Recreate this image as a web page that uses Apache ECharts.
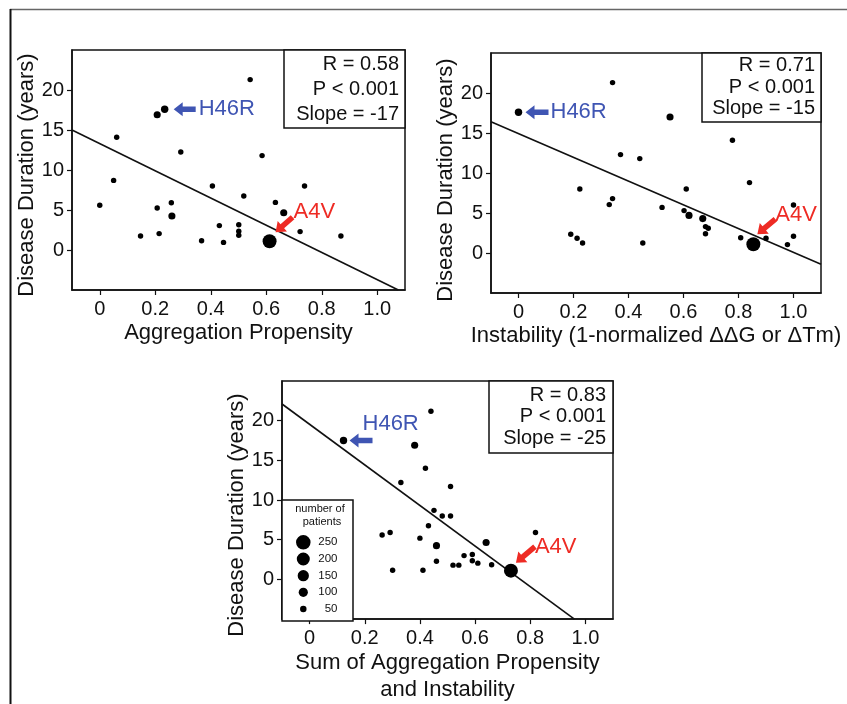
<!DOCTYPE html>
<html>
<head>
<meta charset="utf-8">
<script src="https://cdn.jsdelivr.net/npm/echarts@6/dist/echarts.min.js"></script>
<style>
  html, body { margin: 0; padding: 0; background: #fff; }
  #chart { width: 847px; height: 704px; }
</style>
</head>
<body>
<div id="chart"></div>
<script>
// ---------------- DATA ----------------
// Panel 1: Aggregation Propensity vs Disease Duration
const aggX = [0, 0.05, 0.061, 0.147, 0.207, 0.234, 0.207, 0.214, 0.258, 0.26, 0.292, 0.367, 0.406, 0.431, 0.446, 0.501, 0.501, 0.501, 0.519, 0.542, 0.585, 0.612, 0.633, 0.663, 0.722, 0.738, 0.869];
const aggY = [5.6, 8.7, 14.1, 1.75, 16.9, 17.6, 5.25, 2.05, 5.9, 4.25, 12.25, 1.15, 8.0, 3.05, 0.95, 3.15, 2.35, 1.85, 6.75, 21.3, 11.8, 1.1, 5.95, 4.65, 2.3, 8.0, 1.75];
const aggN = [35, 35, 35, 35, 60, 65, 35, 35, 35, 60, 35, 35, 35, 35, 35, 35, 35, 35, 35, 35, 35, 230, 35, 60, 35, 35, 35];
const aggFit = [[-0.1, 15.0], [1.076, -5]];
const aggStats = ['R = 0.58', 'P < 0.001', 'Slope = -17'];

// Panel 2: Instability vs Disease Duration
const insX = [0, 0.19, 0.213, 0.223, 0.233, 0.33, 0.342, 0.342, 0.371, 0.441, 0.452, 0.522, 0.551, 0.602, 0.61, 0.62, 0.67, 0.68, 0.69, 0.68, 0.778, 0.808, 0.84, 0.854, 0.9, 0.978, 1.0, 1.0];
const insY = [17.6, 2.35, 1.85, 8.0, 1.25, 6.05, 6.8, 21.3, 12.3, 11.8, 1.25, 5.7, 17.0, 5.3, 8.0, 4.7, 4.3, 3.3, 3.1, 2.4, 14.1, 1.9, 8.8, 1.1, 1.85, 1.05, 6.0, 2.1];
const insN = [65, 35, 35, 35, 35, 35, 35, 35, 35, 35, 35, 35, 60, 35, 35, 60, 60, 35, 35, 35, 35, 35, 35, 230, 35, 35, 35, 35];
const insFit = [[-0.1, 16.4], [1.1, -1.4]];
const insStats = ['R = 0.71', 'P < 0.001', 'Slope = -15'];

// Panel 3: Sum of Aggregation Propensity and Instability vs Disease Duration
const sumX = [0.123, 0.263, 0.292, 0.301, 0.331, 0.381, 0.4, 0.411, 0.42, 0.431, 0.44, 0.451, 0.46, 0.46, 0.481, 0.511, 0.511, 0.52, 0.541, 0.56, 0.59, 0.59, 0.61, 0.64, 0.66, 0.73, 0.819];
const sumY = [17.5, 5.6, 5.9, 1.15, 12.2, 16.9, 5.2, 1.15, 14.0, 6.75, 21.2, 8.7, 4.25, 2.3, 8.0, 8.0, 11.7, 1.8, 1.8, 3.0, 3.15, 2.35, 2.05, 4.65, 1.85, 1.1, 5.9];
const sumN = [65, 35, 35, 35, 35, 60, 35, 35, 35, 35, 35, 35, 60, 35, 35, 35, 35, 35, 35, 35, 35, 35, 35, 60, 35, 230, 35];
const sumFit = [[-0.1, 22.1], [0.96, -5]];
const sumStats = ['R = 0.83', 'P < 0.001', 'Slope = -25'];

// Axis ticks / labels
const xTicks = [0, 0.2, 0.4, 0.6, 0.8, 1.0];
const yTicks = [0, 5, 10, 15, 20];
const xRange = [-0.1, 1.1];
const yRange = [-5, 25];
const yName = 'Disease Duration (years)';
const xNames = ['Aggregation Propensity', 'Instability (1-normalized \u0394\u0394G or \u0394Tm)', 'Sum of Aggregation Propensity\nand Instability'];

// Size legend
const legendTitle = ['number of', 'patients'];
const legendCounts = [250, 200, 150, 100, 50];

// Labelled mutations (index into each panel's arrays)
const h46rIdx = [5, 0, 0];
const a4vIdx = [21, 23, 25];

// ---------------- STYLE / LAYOUT ----------------
const FONT = '"Liberation Sans", Arial, Helvetica, sans-serif';
const INK = '#111';
const BLUE = '#3f55b3';
const RED = '#ee2b24';
const sizeOf = n => 0.92 * Math.sqrt(n);

const grids = [
  { left: 72, top: 50, width: 333, height: 240 },
  { left: 491, top: 53, width: 330, height: 240 },
  { left: 282, top: 381, width: 331, height: 240 }
];
const xNameGap = [29, 28, 28];
const yNameGap = [31, 30, 31];
const yNamePad = [[0, 10, 0, 0], [0, 14, 0, 0], [0, 30, 0, 0]];

const statsBoxes = [
  { x: 284, y: 50, w: 121, h: 78, right: 399, rows: [64, 89, 114] },
  { x: 702, y: 53, w: 119, h: 69, right: 815, rows: [65, 87, 108.5] },
  { x: 489, y: 381, w: 124, h: 72, right: 606, rows: [395, 416.7, 438.3] }
];

// annotation offsets in pixels relative to the labelled point
const annots = [
  { panel: 0, idx: h46rIdx[0], text: 'H46R', color: BLUE, tip: [9, 0], tail: [31, 0], label: [34, 0] },
  { panel: 0, idx: a4vIdx[0], text: 'A4V', color: RED, tip: [6, -9], tail: [23, -24], label: [24, -29] },
  { panel: 1, idx: h46rIdx[1], text: 'H46R', color: BLUE, tip: [7, 0], tail: [30, 0], label: [32, 0] },
  { panel: 1, idx: a4vIdx[1], text: 'A4V', color: RED, tip: [4, -10], tail: [22, -25], label: [22, -29] },
  { panel: 2, idx: h46rIdx[2], text: 'H46R', color: BLUE, tip: [6, 0], tail: [29, 0], label: [19, -17] },
  { panel: 2, idx: a4vIdx[2], text: 'A4V', color: RED, tip: [5, -8], tail: [24, -24], label: [24, -24] }
];

const panels = [
  { X: aggX, Y: aggY, N: aggN, fit: aggFit, stats: aggStats },
  { X: insX, Y: insY, N: insN, fit: insFit, stats: insStats },
  { X: sumX, Y: sumY, N: sumN, fit: sumFit, stats: sumStats }
];

// ---------------- BUILD ----------------
const chart = echarts.init(document.getElementById('chart'), null, { renderer: 'canvas' });

const xAxes = [], yAxes = [], series = [];
panels.forEach((p, i) => {
  xAxes.push({
    gridIndex: i, type: 'value', min: xRange[0], max: xRange[1],
    name: xNames[i], nameLocation: 'middle', nameGap: xNameGap[i],
    nameTextStyle: { fontSize: 22, color: INK, fontFamily: FONT, lineHeight: 27, verticalAlign: 'top' },
    axisLine: { show: true, onZero: false, lineStyle: { color: INK, width: 1.5 } },
    axisTick: { show: true, inside: false, length: 5, customValues: xTicks, lineStyle: { color: INK, width: 1.2 } },
    axisLabel: { show: true, customValues: xTicks, margin: 9, fontSize: 20, color: INK, fontFamily: FONT,
      formatter: v => (v === 0 ? '0' : v.toFixed(1)) },
    splitLine: { show: false }
  });
  yAxes.push({
    gridIndex: i, type: 'value', min: yRange[0], max: yRange[1],
    name: yName, nameLocation: 'middle', nameGap: yNameGap[i], nameRotate: 90,
    nameTextStyle: { fontSize: 22, color: INK, fontFamily: FONT, padding: yNamePad[i] },
    axisLine: { show: true, onZero: false, lineStyle: { color: INK, width: 1.5 } },
    axisTick: { show: true, inside: false, length: 5, customValues: yTicks, lineStyle: { color: INK, width: 1.2 } },
    axisLabel: { show: true, customValues: yTicks, margin: 8, fontSize: 20, color: INK, fontFamily: FONT },
    splitLine: { show: false }
  });
  series.push({
    type: 'scatter', xAxisIndex: i, yAxisIndex: i, silent: true, z: 3,
    data: p.X.map((x, k) => [x, p.Y[k], p.N[k]]),
    symbol: 'circle',
    symbolSize: v => sizeOf(v[2]),
    itemStyle: { color: '#000', opacity: 1 }
  });
});
panels.forEach((p, i) => {
  series.push({
    type: 'line', xAxisIndex: i, yAxisIndex: i, silent: true, z: 2,
    data: p.fit, showSymbol: false, symbol: 'none',
    lineStyle: { color: INK, width: 1.6 }
  });
});

chart.setOption({
  animation: false,
  backgroundColor: '#fff',
  textStyle: { fontFamily: FONT },
  grid: grids.map(g => Object.assign({ show: true, borderColor: INK, borderWidth: 1.5, backgroundColor: 'transparent', containLabel: false }, g)),
  xAxis: xAxes,
  yAxis: yAxes,
  series: series
});

// ---------------- GRAPHIC OVERLAYS ----------------
function arrowPoints(tip, tail, shaft, headLen, headW) {
  const dx = tip[0] - tail[0], dy = tip[1] - tail[1];
  const L = Math.hypot(dx, dy);
  const ux = dx / L, uy = dy / L, px = -uy, py = ux;
  const bx = tip[0] - ux * headLen, by = tip[1] - uy * headLen;
  const s = shaft / 2, h = headW / 2;
  return [
    [tail[0] + px * s, tail[1] + py * s],
    [bx + px * s, by + py * s],
    [bx + px * h, by + py * h],
    [tip[0], tip[1]],
    [bx - px * h, by - py * h],
    [bx - px * s, by - py * s],
    [tail[0] - px * s, tail[1] - py * s]
  ];
}

const graphics = [];
// figure frame
graphics.push({ type: 'line', shape: { x1: 10, y1: 9.5, x2: 847, y2: 9.5 }, style: { stroke: '#666', lineWidth: 1.5 }, z: 100 });
graphics.push({ type: 'line', shape: { x1: 10.5, y1: 9, x2: 10.5, y2: 704 }, style: { stroke: INK, lineWidth: 2 }, z: 100 });

// stats boxes
statsBoxes.forEach((b, i) => {
  graphics.push({ type: 'rect', shape: { x: b.x, y: b.y, width: b.w, height: b.h },
    style: { fill: '#fff', stroke: INK, lineWidth: 1.5 }, z: 100 });
  panels[i].stats.forEach((t, r) => {
    graphics.push({ type: 'text', x: b.right, y: b.rows[r], z: 101,
      style: { text: t, fontSize: 20, fontFamily: FONT, fill: INK, align: 'right', verticalAlign: 'middle' } });
  });
});

// size legend in panel 3
const lg = { x: 282, y: 500, w: 71, h: 121, cx: 303.3, rows: [542.3, 559, 575.7, 592.3, 609], labelRight: 337.5 };
graphics.push({ type: 'rect', shape: { x: lg.x, y: lg.y, width: lg.w, height: lg.h },
  style: { fill: '#fff', stroke: INK, lineWidth: 1.5 }, z: 100 });
graphics.push({ type: 'text', x: 320, y: 508.5, z: 101,
  style: { text: legendTitle[0], fontSize: 11, fontFamily: FONT, fill: INK, align: 'center', verticalAlign: 'middle' } });
graphics.push({ type: 'text', x: 322, y: 522, z: 101,
  style: { text: legendTitle[1], fontSize: 11, fontFamily: FONT, fill: INK, align: 'center', verticalAlign: 'middle' } });
legendCounts.forEach((n, r) => {
  graphics.push({ type: 'circle', shape: { cx: lg.cx, cy: lg.rows[r], r: sizeOf(n) / 2 }, style: { fill: '#000' }, z: 101 });
  graphics.push({ type: 'text', x: lg.labelRight, y: lg.rows[r], z: 101,
    style: { text: String(n), fontSize: 11.5, fontFamily: FONT, fill: INK, align: 'right', verticalAlign: 'middle' } });
});

// arrows + mutation labels, anchored to the data points
annots.forEach(a => {
  const p = panels[a.panel];
  const pt = chart.convertToPixel({ seriesIndex: a.panel }, [p.X[a.idx], p.Y[a.idx]]);
  const tip = [pt[0] + a.tip[0], pt[1] + a.tip[1]];
  const tail = [pt[0] + a.tail[0], pt[1] + a.tail[1]];
  graphics.push({ type: 'polygon', shape: { points: arrowPoints(tip, tail, 5.5, 9, 14) },
    style: { fill: a.color }, z: 110 });
  graphics.push({ type: 'text', x: pt[0] + a.label[0], y: pt[1] + a.label[1], z: 110,
    style: { text: a.text, fontSize: 22, fontFamily: FONT, fill: a.color, align: 'left', verticalAlign: 'middle' } });
});

chart.setOption({ graphic: { elements: graphics } });
</script>
</body>
</html>
